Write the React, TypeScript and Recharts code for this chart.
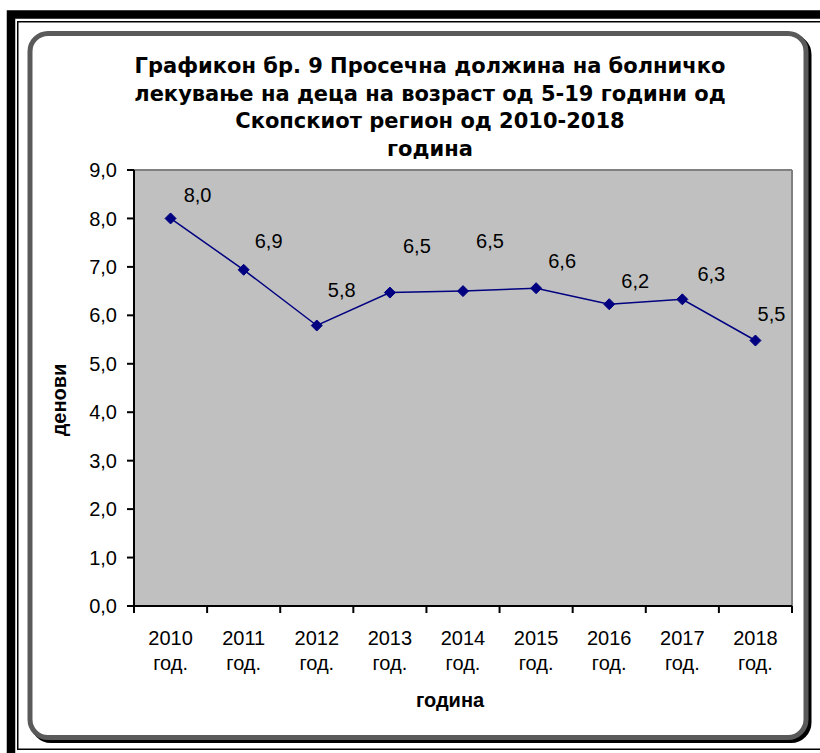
import React from 'react';
import { LineChart, Line, XAxis, YAxis, CartesianGrid } from 'recharts';

// average length of hospital stay (days), children 5-19, Skopje region
const years = ['2010', '2011', '2012', '2013', '2014', '2015', '2016', '2017', '2018'];
const days = [8.0, 6.94, 5.79, 6.47, 6.5, 6.56, 6.23, 6.33, 5.48];
const yTicks = [0, 1, 2, 3, 4, 5, 6, 7, 8, 9];
const yearSuffix = 'год.';

const titleLines = [
  'Графикон бр. 9 Просечна должина на болничко',
  'лекување на деца на возраст од 5-19 години од',
  'Скопскиот регион од 2010-2018',
  'година',
];
const yTitle = 'денови';
const xTitle = 'година';

const data = years.map((year, i) => ({ year, days: days[i] }));

const W = 820;
const H = 753;
const PLOT_LEFT = 134;
const PLOT_RIGHT = 792;
const PLOT_TOP = 170;
const PLOT_BOTTOM = 606;
const Y_AXIS_W = 80;
const X_AXIS_H = 60;

const ARIAL = '"Liberation Sans", Arial, sans-serif';
const NAVY = '#000080';

// manual nudges for the data labels, like the dragged labels in the original
const labelNudge = [
  [27, -23], [25, -29], [25, -36], [27, -47], [27, -50],
  [26, -27], [26, -23], [29, -25], [16, -27],
];

const fmt = (v: number) => v.toFixed(1).replace('.', ',');

const Diamond = (props: any) => {
  const { cx, cy, index } = props;
  if (cx == null || cy == null) return null;
  const s = 5.5;
  return (
    <polygon
      key={`d-${index}`}
      points={`${cx},${cy - s} ${cx + s},${cy} ${cx},${cy + s} ${cx - s},${cy}`}
      fill={NAVY}
      stroke={NAVY}
    />
  );
};

const ValueLabel = (props: any) => {
  const { x, y, value, index } = props;
  const [dx, dy] = labelNudge[index] || [26, -28];
  return (
    <text
      x={x + dx}
      y={y + dy}
      textAnchor="middle"
      dominantBaseline="central"
      fontFamily={ARIAL}
      fontSize={20}
      fill="#000"
    >
      {fmt(value)}
    </text>
  );
};

const YearTick = (props: any) => {
  const { x, payload, index } = props;
  const half = (PLOT_RIGHT - PLOT_LEFT) / years.length / 2;
  return (
    <g>
      <line x1={x - half} x2={x - half} y1={PLOT_BOTTOM} y2={PLOT_BOTTOM + 7} stroke="#000" strokeWidth={2} />
      {index === years.length - 1 && (
        <line x1={x + half} x2={x + half} y1={PLOT_BOTTOM} y2={PLOT_BOTTOM + 7} stroke="#000" strokeWidth={2} />
      )}
      <text textAnchor="middle" fontFamily={ARIAL} fontSize={20} fill="#000">
        <tspan x={x} y={645}>{payload.value}</tspan>
        <tspan x={x} y={670}>{yearSuffix}</tspan>
      </text>
    </g>
  );
};

const Frame = () => (
  <svg width={W} height={H} style={{ position: 'absolute', left: 0, top: 0, overflow: 'hidden' }}>
    {/* thick-thin picture border, runs off the right/bottom edge */}
    <rect x={11} y={14.5} width={W + 20} height={H + 20} fill="none" stroke="#000" strokeWidth={8.5} />
    <rect x={17.75} y={21.75} width={W + 20} height={727.5} fill="none" stroke="#000" strokeWidth={1.5} />
    {/* rounded chart area border with shadow */}
    <rect x={33} y={36.5} width={776} height={704} rx={18} fill="none" stroke="#000" strokeWidth={5} />
    <rect x={30} y={33.5} width={776} height={704} rx={18} fill="#fff" stroke="#5a5a5a" strokeWidth={5} />
    <g fontFamily='"DejaVu Sans", Verdana, sans-serif' fontWeight="bold" fontSize={21} textAnchor="middle" fill="#000">
      {titleLines.map((t, i) => (
        <text key={i} x={430} y={73 + i * 27.5}>{t}</text>
      ))}
    </g>
    <text
      x={59}
      y={400}
      transform="rotate(-90 59 400)"
      textAnchor="middle"
      dominantBaseline="central"
      fontFamily={ARIAL}
      fontWeight="bold"
      fontSize={20}
    >
      {yTitle}
    </text>
    <text x={450} y={707} textAnchor="middle" fontFamily={ARIAL} fontWeight="bold" fontSize={20}>
      {xTitle}
    </text>
  </svg>
);

export default function App() {
  return (
    <div style={{ position: 'absolute', left: 0, top: 0, width: W, height: H, background: '#fff', overflow: 'hidden' }}>
      <Frame />
      <div style={{ position: 'absolute', left: 0, top: 0 }}>
        <LineChart
          width={W}
          height={H}
          data={data}
          margin={{ top: PLOT_TOP, right: W - PLOT_RIGHT, bottom: H - PLOT_BOTTOM - X_AXIS_H, left: PLOT_LEFT - Y_AXIS_W }}
        >
          <CartesianGrid
            fill="#C0C0C0"
            stroke="#808080"
            strokeWidth={2}
            strokeDasharray=""
            horizontalPoints={[PLOT_TOP]}
            verticalPoints={[PLOT_RIGHT]}
          />
          <XAxis
            dataKey="year"
            scale="band"
            interval={0}
            height={X_AXIS_H}
            tickLine={false}
            axisLine={{ stroke: '#000', strokeWidth: 2 }}
            tick={<YearTick />}
          />
          <YAxis
            width={Y_AXIS_W}
            domain={[0, 9]}
            ticks={yTicks}
            interval={0}
            tickFormatter={fmt}
            tickSize={7}
            tickMargin={10}
            tickLine={{ stroke: '#000', strokeWidth: 2 }}
            axisLine={{ stroke: '#000', strokeWidth: 2 }}
            tick={{ fill: '#000', fontSize: 20, fontFamily: ARIAL }}
          />
          <Line
            dataKey="days"
            stroke={NAVY}
            strokeWidth={1.5}
            dot={<Diamond />}
            activeDot={false}
            label={<ValueLabel />}
            isAnimationActive={false}
          />
        </LineChart>
      </div>
    </div>
  );
}
